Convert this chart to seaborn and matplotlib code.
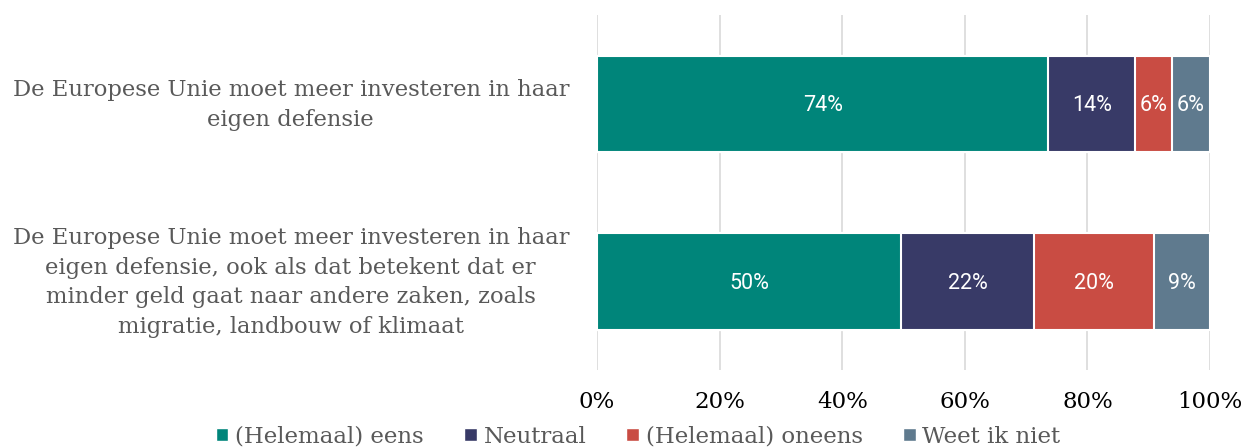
import pandas as pd
import seaborn as sns
import matplotlib.pyplot as plt
import matplotlib.transforms as mtransforms
from matplotlib.patches import Patch

statements = [
    "De Europese Unie moet meer investeren in haar\neigen defensie",
    "De Europese Unie moet meer investeren in haar\neigen defensie, ook als dat betekent dat er\nminder geld gaat naar andere zaken, zoals\nmigratie, landbouw of klimaat",
]
answers = ["(Helemaal) eens", "Neutraal", "(Helemaal) oneens", "Weet ik niet"]
eens = [73.6, 49.6]
neutraal = [14.2, 21.7]
oneens = [6.0, 19.6]
weet_niet = [6.2, 9.1]
colors = ["#00857A", "#383A67", "#C94C43", "#5F7A8E"]

df = pd.DataFrame({"statement": statements, answers[0]: eens, answers[1]: neutraal,
                   answers[2]: oneens, answers[3]: weet_niet})

sns.set_style("white")
plt.rcParams["font.family"] = ["DejaVu Serif"]

fig, ax = plt.subplots(figsize=(12.44, 4.48), dpi=100)
fig.subplots_adjust(left=0.48, right=0.9727, top=0.966, bottom=0.174)

# stacked bars: draw cumulative totals, largest first, so each overlays the next
cum = df[answers].cumsum(axis=1)
for ans, col in reversed(list(zip(answers, colors))):
    sns.barplot(x=cum[ans], y=df["statement"], color=col, orient="h", saturation=1,
                width=0.545, edgecolor="white", linewidth=1.5, ax=ax, zorder=2)

for i in range(len(df)):
    for ans in answers:
        v = df.loc[i, ans]
        ax.text(cum.loc[i, ans] - v / 2, i + 0.01, f"{round(v)}%", ha="center", va="center",
                color="white", fontsize=15.5, family=["Roboto", "DejaVu Sans"], zorder=3)

ax.set_xlim(0, 100)
ax.set_ylim(1.5, -0.5)
ax.set_xticks(range(0, 101, 20))
ax.set_xticklabels([f"{t}%" for t in range(0, 101, 20)], fontsize=16.5, color="black")
ax.tick_params(axis="x", pad=15, length=0)
ax.tick_params(axis="y", pad=22, length=0)
shift_up = mtransforms.ScaledTranslation(0, 0.05, fig.dpi_scale_trans)
for lab in ax.get_yticklabels():
    lab.set_fontsize(16.3)
    lab.set_color("#595959")
    lab.set_horizontalalignment("center")
    lab.set_multialignment("center")
    lab.set_linespacing(1.45)
    lab.set_x(-0.45)
    lab.set_transform(lab.get_transform() + shift_up)
ax.set_xlabel("")
ax.set_ylabel("")
ax.xaxis.grid(True, color="#D9D9D9", linewidth=1.2, zorder=0)
ax.set_axisbelow(True)
sns.despine(ax=ax, left=True, bottom=True)

handles = [Patch(facecolor=c, label=a) for a, c in zip(answers, colors)]
leg = fig.legend(handles=handles, loc="lower center", ncol=4, frameon=False,
                 bbox_to_anchor=(0.513, -0.045), fontsize=16.5, handlelength=0.55,
                 handleheight=0.55, handletextpad=0.3, columnspacing=1.75)
for t in leg.get_texts():
    t.set_color("#595959")

fig.savefig("out.png", dpi=100)
